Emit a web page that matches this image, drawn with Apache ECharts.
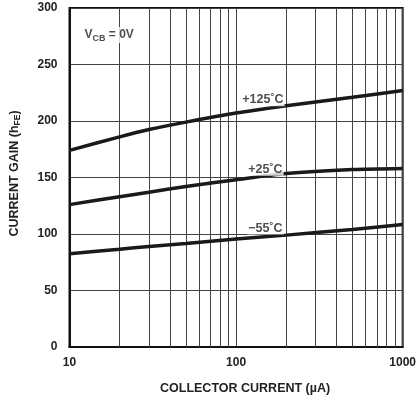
<!DOCTYPE html>
<html><head><meta charset="utf-8">
<script src="https://cdn.jsdelivr.net/npm/echarts@6/dist/echarts.min.js"></script>
<style>html,body{margin:0;padding:0;background:#fff}#c{width:419px;height:400px}</style>
</head><body><div id="c"></div>
<script>
const currents = [10, 20, 30, 50, 100, 200, 500, 1000];
const gain125 = [174, 186, 192.5, 199, 207, 213.5, 221, 227];
const gain25 = [126, 133, 137, 142, 148, 153.5, 157, 158];
const gainM55 = [82.5, 86.5, 89, 91.5, 95.5, 99, 104, 108.5];
const yTicks = [0, 50, 100, 150, 200, 250, 300];
const minorX = [20, 30, 40, 50, 60, 70, 80, 90, 200, 300, 400, 500, 600, 700, 800, 900];
const seriesLabels = ['+125˚C', '+25˚C', '−55˚C'];
const labelPos = [[145, 213], [150, 151.5], [150, 99.5]];

const font = 'Liberation Sans';
function pairs(ys){ return currents.map((x,i)=>[x, ys[i]]); }
const lineStyle = {color:'#1a1a1a', width:3.5};
const chart = echarts.init(document.getElementById('c'));
chart.setOption({
  animation:false,
  grid:{left:69, right:12, top:8, bottom:51, show:true, borderColor:'#111', borderWidth:2},
  xAxis:{type:'log', logBase:10, min:10, max:1000,
    name:'COLLECTOR CURRENT (µA)', nameLocation:'middle', nameGap:35,
    nameTextStyle:{fontFamily:font, fontWeight:'bold', fontSize:12.5, color:'#222', padding:[0,0,0,18]},
    axisLine:{lineStyle:{color:'#111', width:2}}, axisTick:{show:false},
    axisLabel:{fontFamily:font, fontWeight:'bold', fontSize:12, color:'#222', margin:10, formatter:v=>String(v)},
    splitLine:{show:true, lineStyle:{color:'#444', width:1}}},
  yAxis:{type:'value', min:0, max:300, interval:50,
    name:'{a|CURRENT GAIN (h}{s|FE}{a|)}', nameLocation:'middle', nameGap:47, nameRotate:90,
    nameTextStyle:{padding:[0,0,0,8], rich:{a:{fontFamily:font, fontWeight:'bold', fontSize:12.5, color:'#222'},
      s:{fontFamily:font, fontWeight:'bold', fontSize:8.5, color:'#222', verticalAlign:'bottom', padding:[7,0,0,0]}}},
    axisLine:{lineStyle:{color:'#111', width:2}}, axisTick:{show:false},
    axisLabel:{fontFamily:font, fontWeight:'bold', fontSize:12, color:'#222', margin:12, padding:[6,0,0,0]},
    splitLine:{show:true, lineStyle:{color:'#444', width:1}}},
  series:[
    {type:'line', data:pairs(gain125), smooth:0.25, symbol:'none', lineStyle, z:5,
     markLine:{silent:true, symbol:'none', label:{show:false},
       lineStyle:{color:'#444', width:1, type:'solid'},
       data:minorX.map(v=>({xAxis:v}))}},
    {type:'line', data:pairs(gain25), smooth:0.25, symbol:'none', lineStyle, z:5},
    {type:'line', data:pairs(gainM55), smooth:0.25, symbol:'none', lineStyle, z:5},
    {type:'scatter', symbolSize:0, z:6, data:labelPos.map((p,i)=>({value:p, name:seriesLabels[i]})),
     label:{show:true, position:'top', distance:0, formatter:p=>p.name,
       fontFamily:font, fontWeight:'bold', fontSize:12.5, color:'#222', backgroundColor:'#fff', padding:[0,1]}},
    {type:'scatter', symbolSize:0, z:6, data:[[17.3, 276]],
     label:{show:true, position:'inside', formatter:'{a|V}{s|CB}{a| = 0V}', backgroundColor:'#fff',
       rich:{a:{fontFamily:font, fontWeight:'bold', fontSize:12, color:'#222'},
             s:{fontFamily:font, fontWeight:'bold', fontSize:9, color:'#222', padding:[7,0,0,0]}}}}
  ]
});
</script></body></html>
